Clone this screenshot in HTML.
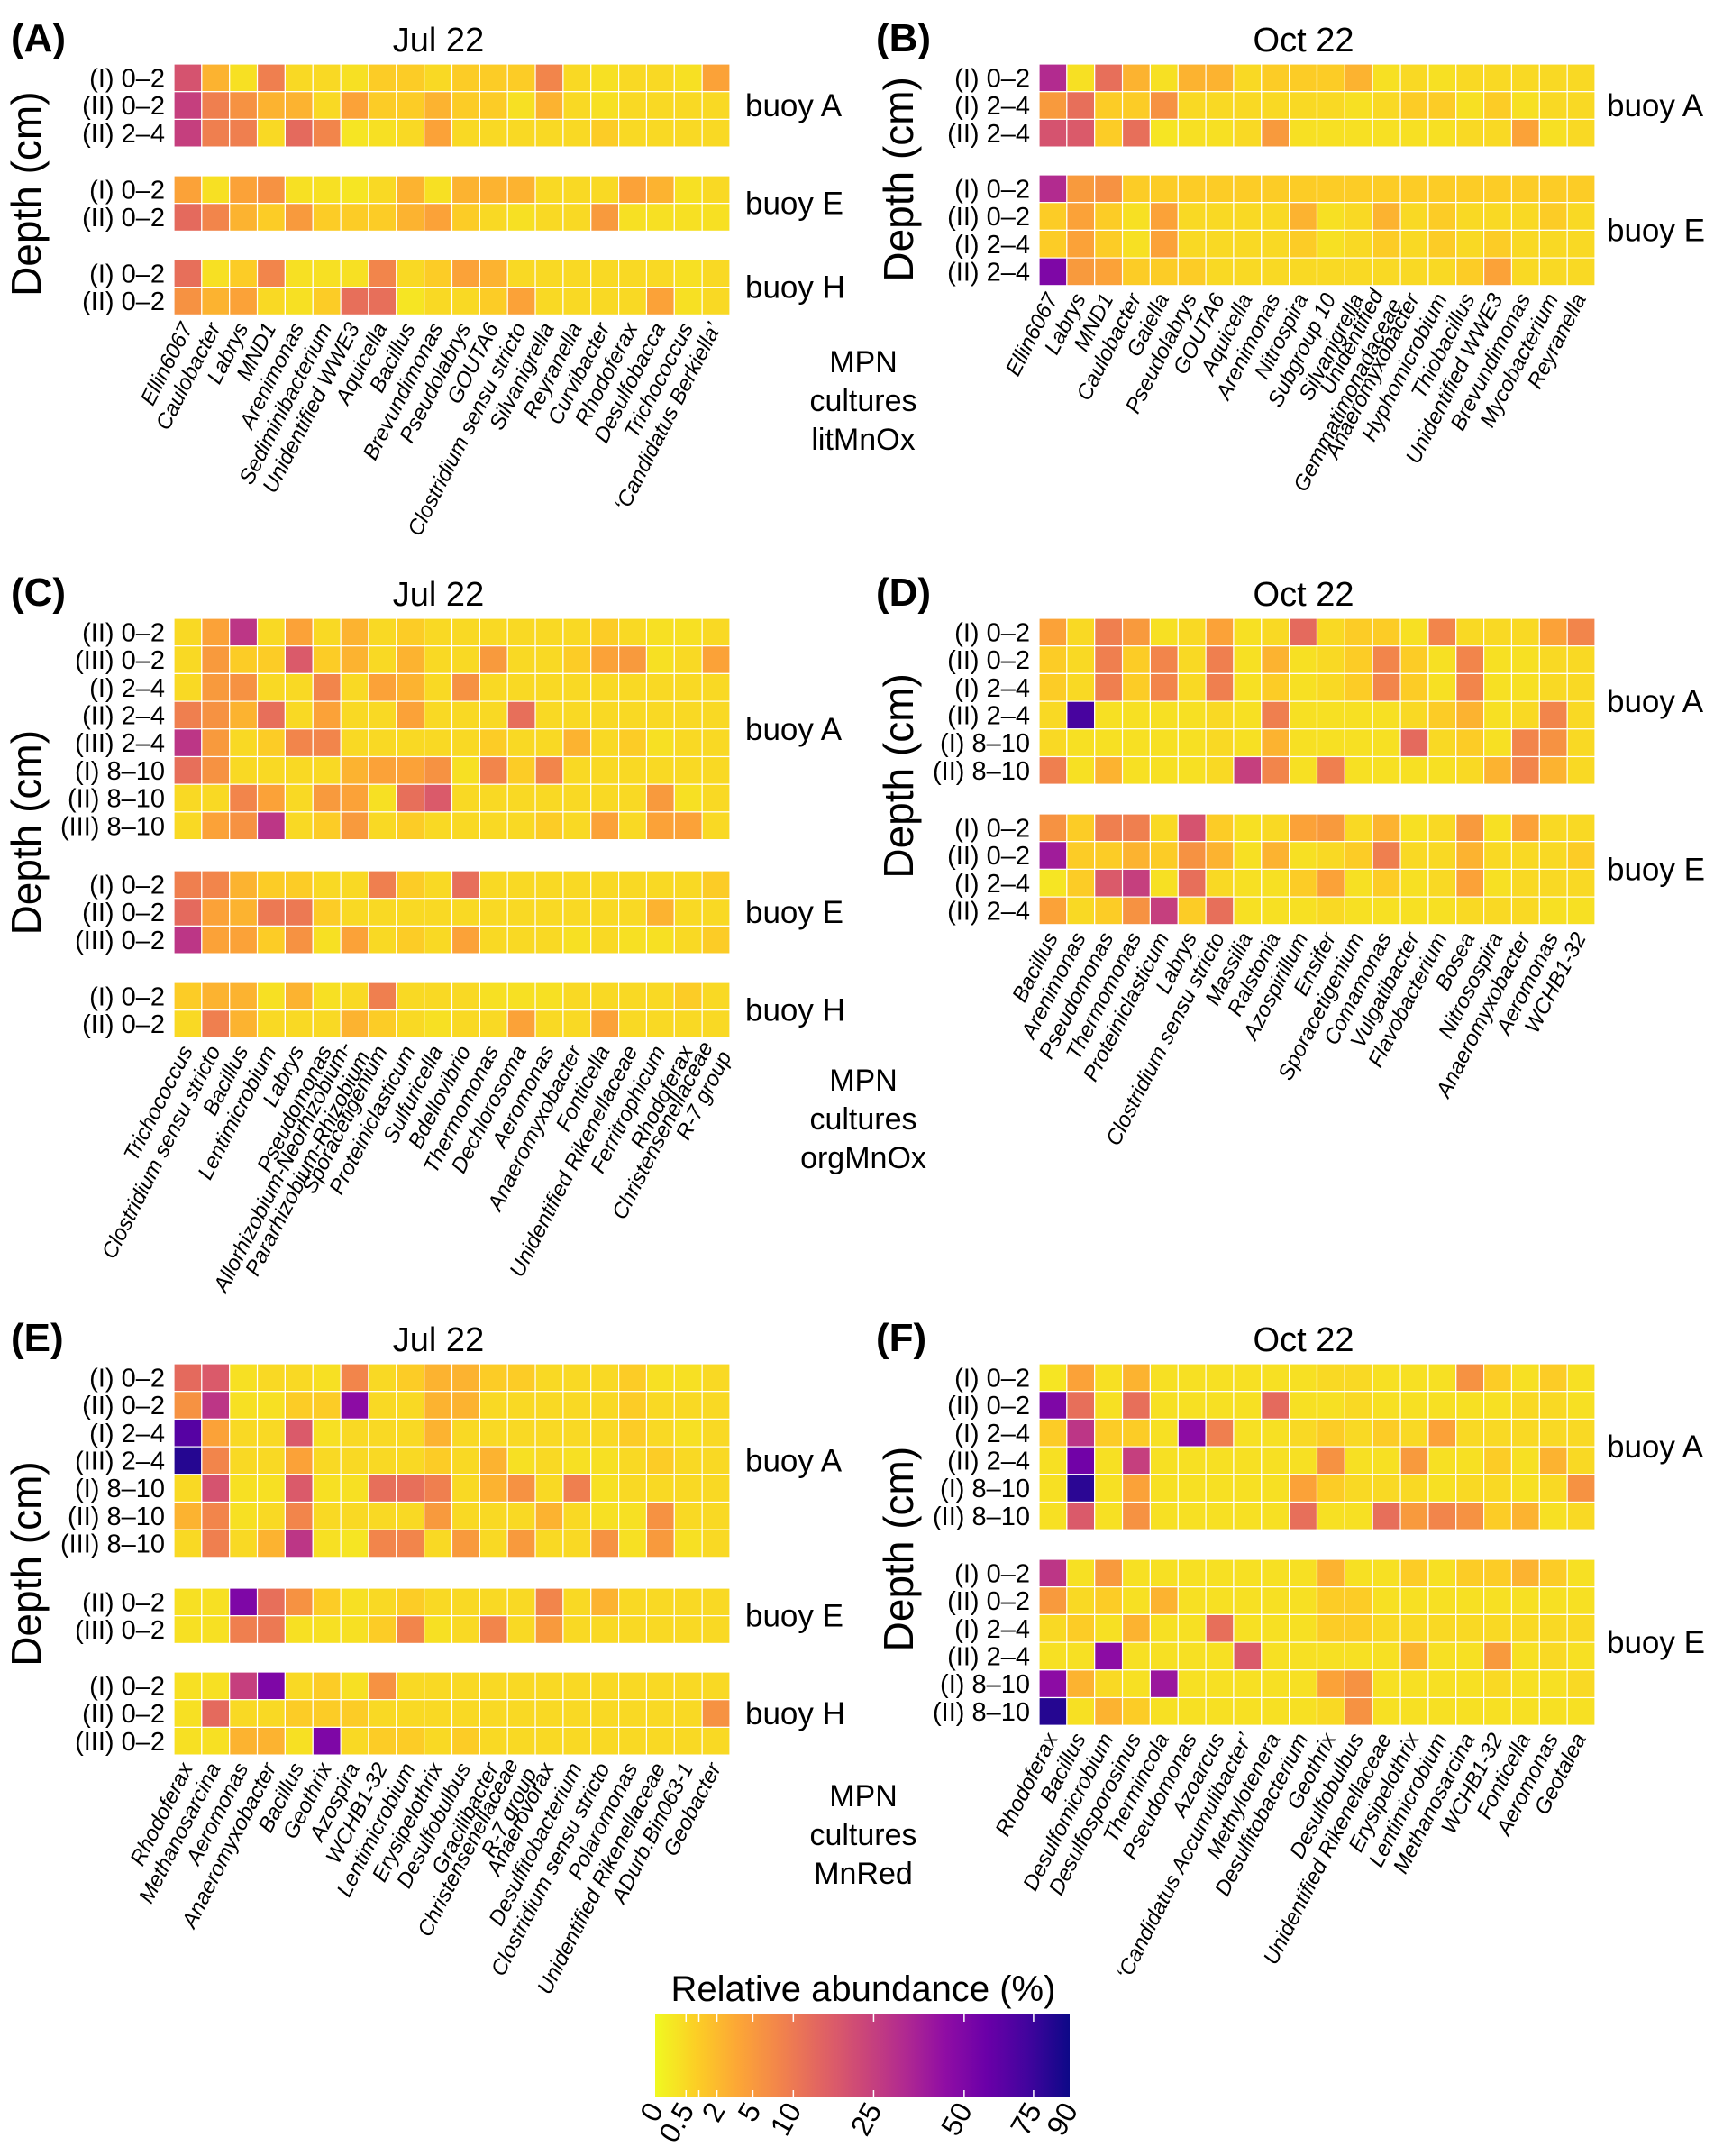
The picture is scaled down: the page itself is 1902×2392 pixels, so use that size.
<!DOCTYPE html>
<html><head><meta charset="utf-8">
<style>
html,body{margin:0;padding:0;background:#fff;}
svg{display:block;font-family:"Liberation Sans",Arial,sans-serif;}
</style></head>
<body>
<svg id="fig" width="1902" height="2392" viewBox="0 0 1902 2392" xmlns="http://www.w3.org/2000/svg">
<defs>
<linearGradient id="cbgrad" x1="0" x2="1" y1="0" y2="0"></linearGradient>
</defs>
</svg>
<script>
// ---------- DATA ----------
const colsA = ["Ellin6067","Caulobacter","Labrys","MND1","Arenimonas","Sediminibacterium","Unidentified WWE3","Aquicella","Bacillus","Brevundimonas","Pseudolabrys","GOUTA6","Clostridium sensu stricto","Silvanigrella","Reyranella","Curvibacter","Rhodoferax","Desulfobacca","Trichococcus","\u2018Candidatus Berkiella\u2019"];
const rowsA_A = ["(I) 0\u20132","(II) 0\u20132","(II) 2\u20134"];
const rowsA_E = ["(I) 0\u20132","(II) 0\u20132"];
const rowsA_H = ["(I) 0\u20132","(II) 0\u20132"];
const valsA_A = [
[19,2.5,0.3,9,0.5,0.5,0.3,1,1,0.5,1,1,1,8,0.5,0.3,0.5,0.5,0.3,4],
[25,9,6,2.5,2.5,0.5,4,1,1,2.5,1,1,0.3,2.5,0.5,0.3,0.5,0.5,0.5,0.5],
[25,9,9,0.5,13,8,0.2,0.3,0.5,4,0.5,0.5,0.5,0.5,0.5,1,0.5,0.5,0.5,0.5]];
const valsA_E = [
[4,0.3,4,6,0.3,0.3,0.2,0.5,2.5,0.3,2.5,2.5,2.5,0.5,0.5,0.5,4,2.5,0.3,0.5],
[13,8,2.5,1,5,1,1,1,2.5,4,1,0.5,0.3,0.5,0.5,5,0.3,0.3,0.3,0.3]];
const valsA_H = [
[12,0.3,1,8,0.3,0.3,0.3,8,0.5,1,4,2.5,0.5,0.5,0.5,0.5,0.5,0.5,0.3,0.5],
[6,2.5,4,0.5,0.3,1,12,12,0.2,0.5,0.5,1,4,0.5,0.5,0.5,0.5,4,0.3,0.5]];

const colsB = ["Ellin6067","Labrys","MND1","Caulobacter","Gaiella","Pseudolabrys","GOUTA6","Aquicella","Arenimonas","Nitrospira","Subgroup 10","Silvanigrella","Unidentified|Gemmatimonadaceae","Anaeromyxobacter","Hyphomicrobium","Thiobacillus","Unidentified WWE3","Brevundimonas","Mycobacterium","Reyranella"];
const rowsB_A = ["(I) 0\u20132","(I) 2\u20134","(II) 2\u20134"];
const rowsB_E = ["(I) 0\u20132","(II) 0\u20132","(I) 2\u20134","(II) 2\u20134"];
const valsB_A = [
[32,0.3,12,2.5,0.3,2.5,2.5,0.5,1,1,1,2.5,0.3,0.5,0.3,0.5,0.5,0.5,0.5,0.5],
[5,12,1,1,6,0.5,0.5,0.5,0.5,0.5,0.5,0.3,0.5,1,1,0.3,1,0.3,0.5,0.5],
[19,17,1,12,0.2,0.3,0.3,0.5,5,0.3,0.3,0.3,0.3,0.3,0.3,0.5,0.5,4,0.3,0.5]];
const valsB_E = [
[32,5,6,1,1,1,1,1,1,1,1,1,1,1,1,1,1,1,1,1],
[1,4,1,0.3,4,0.5,0.5,0.5,0.5,2.5,0.3,0.5,2.5,0.5,1,0.5,0.5,0.5,1,0.5],
[1,4,1,0.3,4,0.5,0.5,0.5,0.5,1,0.3,0.5,1,0.5,1,0.5,1,0.5,0.5,0.5],
[50,5,4,1,1,1,0.5,0.5,0.5,0.5,0.5,0.5,0.5,0.5,0.5,1,4,0.5,0.5,0.5]];

const colsC = ["Trichococcus","Clostridium sensu stricto","Bacillus","Lentimicrobium","Labrys","Pseudomonas","Allorhizobium-Neorhizobium-|Pararhizobium-Rhizobium","Sporacetigenium","Proteiniclasticum","Sulfuricella","Bdellovibrio","Thermomonas","Dechlorosoma","Aeromonas","Anaeromyxobacter","Fonticella","Unidentified Rikenellaceae","Ferritrophicum","Rhodoferax","Christensenellaceae|R-7 group"];
const rowsC_A = ["(II) 0\u20132","(III) 0\u20132","(I) 2\u20134","(II) 2\u20134","(III) 2\u20134","(I) 8\u201310","(II) 8\u201310","(III) 8\u201310"];
const rowsC_E = ["(I) 0\u20132","(II) 0\u20132","(III) 0\u20132"];
const rowsC_H = ["(I) 0\u20132","(II) 0\u20132"];
const valsC_A = [
[0.5,4,28,0.5,4,0.5,2.5,0.5,1,0.5,0.5,0.5,0.5,0.5,0.5,1,0.5,0.3,0.3,0.5],
[0.5,5,1,1,17,1,2.5,0.5,2.5,0.5,0.5,5,0.5,0.5,1,4,5,0.3,0.5,4],
[0.5,5,6,0.5,0.5,8,0.5,4,2.5,0.5,6,0.5,0.5,0.5,0.5,0.5,0.5,0.5,0.5,0.5],
[9,6,2.5,12,0.5,4,0.5,0.5,4,0.5,0.5,0.5,12,0.5,0.5,0.5,0.5,0.5,0.5,0.5],
[28,5,0.5,1,8,8,0.5,0.5,0.5,0.5,0.5,1,0.5,0.5,2.5,0.5,1,0.3,0.5,0.5],
[12,6,0.5,0.5,0.5,0.5,2.5,4,4,6,0.3,8,1,8,0.5,0.5,0.5,0.5,0.5,0.5],
[0.5,0.5,8,4,0.5,5,4,0.3,12,17,0.5,0.5,0.5,0.5,0.5,0.5,0.5,5,0.3,0.5],
[0.5,4,6,28,0.5,1,5,0.5,1,0.5,0.5,0.5,0.5,1,0.5,4,0.5,4,4,0.5]];
const valsC_E = [
[9,8,2.5,1,1,0.5,0.5,9,1,0.5,12,0.5,0.5,0.5,0.5,0.5,0.5,0.5,0.5,1],
[13,4,2.5,10,10,1,0.5,0.5,0.5,0.5,0.5,0.5,0.5,0.5,0.5,0.5,0.5,2.5,0.5,0.5],
[28,4,4,1,6,0.3,4,0.5,1,0.5,4,0.5,0.5,0.5,0.3,0.5,0.3,0.3,0.5,1]];
const valsC_H = [
[1,2.5,2.5,0.3,2.5,0.3,0.5,9,0.5,0.5,0.5,0.3,0.3,0.3,0.5,0.5,0.5,0.5,1,0.5],
[0.5,9,2.5,0.5,0.5,0.5,2.5,1,0.5,0.3,0.5,0.5,4,0.5,0.5,4,0.5,0.5,0.5,0.5]];

const colsD = ["Bacillus","Arenimonas","Pseudomonas","Thermomonas","Proteiniclasticum","Labrys","Clostridium sensu stricto","Massilia","Ralstonia","Azospirillum","Ensifer","Sporacetigenium","Comamonas","Vulgatibacter","Flavobacterium","Bosea","Nitrosospira","Anaeromyxobacter","Aeromonas","WCHB1-32"];
const rowsD_A = ["(I) 0\u20132","(II) 0\u20132","(I) 2\u20134","(II) 2\u20134","(I) 8\u201310","(II) 8\u201310"];
const rowsD_E = ["(I) 0\u20132","(II) 0\u20132","(I) 2\u20134","(II) 2\u20134"];
const valsD_A = [
[4,0.5,9,5,0.3,0.5,4,0.3,0.5,13,0.5,1,1,0.3,8,0.5,0.5,0.5,4,8],
[1,0.5,9,1,8,0.5,9,0.3,2.5,0.3,0.5,1,8,1,0.3,8,0.3,0.3,0.5,0.5],
[1,0.5,9,1,8,0.5,9,0.3,1,0.3,0.5,1,8,1,0.3,8,0.3,0.3,0.5,0.5],
[0.5,70,0.3,0.3,0.3,0.3,0.5,0.3,9,0.3,0.3,0.3,0.3,0.5,1,2.5,0.3,0.5,8,0.5],
[0.5,0.3,0.3,0.3,0.3,0.3,0.5,0.3,2.5,0.3,0.3,0.3,0.3,13,0.5,1,0.3,8,6,0.5],
[9,0.3,2.5,0.3,0.3,0.3,0.5,25,8,0.3,9,0.3,0.3,0.3,0.3,0.5,2.5,8,2.5,0.5]];
const valsD_E = [
[6,1,9,9,0.5,19,1,0.3,0.5,4,5,0.5,2.5,0.3,0.5,5,0.3,4,0.5,0.5],
[38,1,1,2.5,1,6,2.5,0.3,2.5,0.3,0.5,1,9,0.5,0.5,2.5,0.5,0.5,0.5,1],
[0.2,1,17,25,0.3,12,0.5,0.3,0.3,1,4,0.3,1,0.3,0.5,4,0.3,0.5,0.5,0.5],
[4,0.5,1,6,25,1,12,0.3,0.3,0.3,0.5,0.3,0.3,0.3,0.3,0.5,0.5,0.5,0.3,0.3]];

const colsE = ["Rhodoferax","Methanosarcina","Aeromonas","Anaeromyxobacter","Bacillus","Geothrix","Azospira","WCHB1-32","Lentimicrobium","Erysipelothrix","Desulfobulbus","Gracilibacter","Christensenellaceae|R-7 group","Anaerovorax","Desulfitobacterium","Clostridium sensu stricto","Polaromonas","Unidentified Rikenellaceae","ADurb.Bin063-1","Geobacter"];
const rowsE_A = ["(I) 0\u20132","(II) 0\u20132","(I) 2\u20134","(III) 2\u20134","(I) 8\u201310","(II) 8\u201310","(III) 8\u201310"];
const rowsE_E = ["(II) 0\u20132","(III) 0\u20132"];
const rowsE_H = ["(I) 0\u20132","(II) 0\u20132","(III) 0\u20132"];
const valsE_A = [
[13,17,0.3,0.5,0.5,0.3,8,0.5,1,2.5,2.5,1,1,0.5,0.5,0.5,1,0.3,0.3,0.5],
[6,28,0.3,0.3,1,1,45,0.5,0.5,2.5,2.5,0.5,0.5,0.5,0.5,0.5,1,0.5,0.5,0.5],
[65,4,0.5,0.5,17,0.3,0.5,0.5,0.5,2.5,0.5,0.5,0.5,0.5,0.5,0.5,1,0.5,0.3,0.5],
[82,8,0.5,0.5,4,0.5,0.5,0.5,0.5,1,0.5,2.5,0.3,0.5,0.3,0.3,0.5,1,0.5,0.5],
[0.5,19,0.3,0.3,17,0.3,0.3,12,12,9,0.5,2.5,6,0.5,9,0.3,0.5,0.5,0.5,0.5],
[2.5,8,0.3,0.5,8,0.5,0.5,0.5,0.5,5,0.5,0.5,0.5,2.5,0.5,0.3,0.3,6,0.5,0.5],
[0.5,9,0.5,2.5,28,0.3,0.2,8,8,0.5,5,0.5,5,0.5,0.5,6,0.3,5,0.3,0.5]];
const valsE_E = [
[0.3,0.3,50,12,6,1,0.3,0.5,1,0.5,0.5,0.5,0.5,8,0.5,2.5,0.5,0.5,0.5,0.5],
[0.3,0.3,9,10,0.3,0.3,0.3,1,8,0.3,0.5,8,0.5,5,0.5,0.5,0.5,0.5,0.5,0.5]];
const valsE_H = [
[0.3,0.3,25,50,0.5,1,0.3,6,0.5,0.5,0.5,0.5,0.5,0.5,0.5,0.5,0.5,0.5,0.5,0.5],
[0.3,13,0.5,0.5,1,1,1,0.5,0.5,0.5,0.5,0.5,0.5,0.5,0.5,0.5,0.5,0.5,0.5,6],
[0.3,0.3,2.5,2.5,0.3,50,0.5,1,1,0.5,1,0.5,0.5,0.5,0.5,0.5,0.5,0.5,0.5,0.5]];

const colsF = ["Rhodoferax","Bacillus","Desulfomicrobium","Desulfosporosinus","Thermincola","Pseudomonas","Azoarcus","\u2018Candidatus Accumulibacter\u2019","Methylotenera","Desulfitobacterium","Geothrix","Desulfobulbus","Unidentified Rikenellaceae","Erysipelothrix","Lentimicrobium","Methanosarcina","WCHB1-32","Fonticella","Aeromonas","Geotalea"];
const rowsF_A = ["(I) 0\u20132","(II) 0\u20132","(I) 2\u20134","(II) 2\u20134","(I) 8\u201310","(II) 8\u201310"];
const rowsF_E = ["(I) 0\u20132","(II) 0\u20132","(I) 2\u20134","(II) 2\u20134","(I) 8\u201310","(II) 8\u201310"];
const valsF_A = [
[0.2,4,0.3,2.5,0.3,0.3,0.3,0.3,0.3,0.3,0.5,0.5,0.3,0.3,0.3,6,1,0.3,1,0.3],
[50,12,0.3,12,0.3,0.3,0.3,0.3,13,0.3,0.3,0.5,0.3,0.3,0.3,0.3,0.3,0.5,0.5,0.3],
[1,28,1,1,0.3,45,9,0.3,0.3,0.5,1,0.5,1,0.5,4,0.5,0.5,0.5,0.5,0.5],
[0.3,55,0.3,25,0.3,0.3,0.3,0.3,0.3,0.3,6,0.3,0.3,5,0.3,0.3,1,0.3,2.5,0.5],
[0.3,80,0.3,4,0.3,0.3,0.3,0.3,0.3,4,1,0.5,0.5,0.5,0.3,0.5,0.5,0.3,0.5,6],
[0.3,17,0.3,6,0.3,0.3,0.3,0.3,0.3,12,0.3,0.3,12,5,8,6,1,2.5,0.3,0.5]];
const valsF_E = [
[28,0.3,5,0.3,0.3,0.3,0.3,0.3,0.3,0.3,2.5,0.3,0.3,1,0.3,1,1,2.5,1,0.3],
[5,0.5,1,0.3,2.5,0.3,0.3,0.3,0.3,0.3,1,1,0.3,0.3,0.3,0.3,0.3,0.3,0.3,0.3],
[0.5,1,0.3,2.5,0.3,0.3,12,0.3,0.3,0.3,1,1,0.5,0.5,0.5,0.5,0.5,0.5,0.5,0.5],
[0.3,0.3,45,0.3,0.3,0.3,0.3,17,0.3,0.3,0.3,0.3,0.3,2.5,0.3,0.3,5,0.3,0.5,0.3],
[45,2.5,0.5,0.3,40,0.3,0.3,0.3,0.3,0.3,4,6,0.3,0.3,0.3,0.3,0.5,0.3,0.3,0.5],
[82,0.3,2.5,1,0.3,0.3,0.3,0.3,0.3,0.3,0.5,6,0.3,0.3,0.3,0.3,0.3,0.3,0.3,0.3]];

const cbTicks = [0,0.5,2,5,10,25,50,75,90];
const cbTickLabels = ["0","0.5","2","5","10","25","50","75","90"];
const cbMinor = [1];

// ---------- SCALES ----------
const VMAX = 90;
const plasma = ["#0d0887","#41049d","#6a00a8","#8f0da4","#b12a90","#cc4778","#e16462","#f2844b","#fca636","#fcce25","#f0f921"];
function hex(h){return [parseInt(h.slice(1,3),16),parseInt(h.slice(3,5),16),parseInt(h.slice(5,7),16)];}
function tOf(v){return Math.sqrt(Math.max(0,Math.min(VMAX,v))/VMAX);}
function colorOf(v){
  const t = 1 - tOf(v);
  const p = t*10, i = Math.min(9, Math.floor(p)), f = p - i;
  const a = hex(plasma[i]), b = hex(plasma[i+1]);
  return "rgb("+a.map((c,k)=>Math.round(c+(b[k]-c)*f)).join(",")+")";
}

const NS = "http://www.w3.org/2000/svg";
const svg = document.getElementById("fig");
function el(tag, attrs, parent){
  const e = document.createElementNS(NS, tag);
  for (const k in attrs) e.setAttribute(k, attrs[k]);
  (parent||svg).appendChild(e);
  return e;
}
function txt(str, attrs, parent){
  const e = el("text", attrs, parent);
  e.textContent = str;
  return e;
}

// ---------- PANEL DRAWING ----------
function drawPanel(p){
  const g = el("g", {});
  
  
  const cw = p.cw, rh = 30.7;
  const nC = p.cols.length;
  const xScale = i => p.x0 + i*cw;
  const lab = txt("(" + p.letter + ")", {x:p.x0-181, y:p.groups[0].top-14, "font-size":44, "font-weight":"bold"}, g);
  
  
  const ttl = txt(p.title, {x:p.x0+nC*cw/2-15, y:p.groups[0].top-14, "font-size":38, "text-anchor":"middle"}, g);
  
  
  let lastBottom = 0;
  p.groups.forEach(gr => {
    const yScale = r => gr.top + r*rh;
    gr.vals.forEach((row, r) => {
      row.forEach((v, c) => {
        const rc = el("rect", {x:xScale(c), y:yScale(r), width:cw, height:rh, fill:colorOf(v), stroke:"#ffffff", "stroke-width":1.2}, g);
        
        
      });
      const rl = txt(gr.rows[r], {x:p.x0-10, y:yScale(r)+rh/2+10, "font-size":29, "text-anchor":"end"}, g);
      
      
    });
    const bottom = yScale(gr.vals.length);
    lastBottom = bottom;
    const bl = txt(gr.name, {x:p.buoyX, y:(gr.top+bottom)/2+12, "font-size":35}, g);
    
    
  });
  const top = p.groups[0].top;
  const mid = (top + lastBottom)/2 + 5;
  const dt = txt("Depth (cm)", {x:0, y:0, "font-size":46, "text-anchor":"middle", transform:"translate("+p.depthX+","+mid+") rotate(-90)"}, g);
  
  
  p.cols.forEach((name, c) => {
    const cx = xScale(c) + cw/2 + 6;
    const cy = lastBottom + 14;
    const parts = name.split("|");
    const t = el("text", {x:0, y:0, "font-size":24, "font-style":"italic", "text-anchor":"end", transform:"translate("+cx+","+cy+") rotate(-63)"}, g);
    
    
    if (parts.length === 1) { t.textContent = name; }
    else {
      const a = el("tspan", {x:0, dy:-10}, t); a.textContent = parts[0];
      const b = el("tspan", {x:0, dy:23}, t); b.textContent = parts[1];
    }
  });
}

const CW = 30.85;
drawPanel({id:"a", letter:"A", title:"Jul 22", x0:193, cw:CW, cols:colsA, buoyX:827, depthX:45,
  groups:[{name:"buoy A", top:71, rows:rowsA_A, vals:valsA_A},{name:"buoy E", top:195, rows:rowsA_E, vals:valsA_E},{name:"buoy H", top:288, rows:rowsA_H, vals:valsA_H}]});
drawPanel({id:"b", letter:"B", title:"Oct 22", x0:1153, cw:CW, cols:colsB, buoyX:1783, depthX:1013,
  groups:[{name:"buoy A", top:71, rows:rowsB_A, vals:valsB_A},{name:"buoy E", top:194, rows:rowsB_E, vals:valsB_E}]});
drawPanel({id:"c", letter:"C", title:"Jul 22", x0:193, cw:CW, cols:colsC, buoyX:827, depthX:45,
  groups:[{name:"buoy A", top:686, rows:rowsC_A, vals:valsC_A},{name:"buoy E", top:966, rows:rowsC_E, vals:valsC_E},{name:"buoy H", top:1090, rows:rowsC_H, vals:valsC_H}]});
drawPanel({id:"d", letter:"D", title:"Oct 22", x0:1153, cw:CW, cols:colsD, buoyX:1783, depthX:1013,
  groups:[{name:"buoy A", top:686, rows:rowsD_A, vals:valsD_A},{name:"buoy E", top:903, rows:rowsD_E, vals:valsD_E}]});
drawPanel({id:"e", letter:"E", title:"Jul 22", x0:193, cw:CW, cols:colsE, buoyX:827, depthX:45,
  groups:[{name:"buoy A", top:1513, rows:rowsE_A, vals:valsE_A},{name:"buoy E", top:1762, rows:rowsE_E, vals:valsE_E},{name:"buoy H", top:1855, rows:rowsE_H, vals:valsE_H}]});
drawPanel({id:"f", letter:"F", title:"Oct 22", x0:1153, cw:CW, cols:colsF, buoyX:1783, depthX:1013,
  groups:[{name:"buoy A", top:1513, rows:rowsF_A, vals:valsF_A},{name:"buoy E", top:1730, rows:rowsF_E, vals:valsF_E}]});

[["MPN","cultures","litMnOx",413],["MPN","cultures","orgMnOx",1210],["MPN","cultures","MnRed",2004]].forEach(m => {
  for (let i=0;i<3;i++){
    const t = txt(m[i], {x:958, y:m[3]+i*43, "font-size":34, "text-anchor":"middle"});
    
    
  }
});

// ---------- COLORBAR ----------
const grad = document.getElementById("cbgrad");
for (let i=0;i<=40;i++){
  const v = VMAX*(i/40)*(i/40);
  el("stop", {offset:(i/40), "stop-color":colorOf(v)}, grad);
}
const cbX0 = 727, cbX1 = 1187, cbY0 = 2235, cbY1 = 2327;
const cbScale = v => cbX0 + tOf(v)*(cbX1-cbX0);
const cbT = txt("Relative abundance (%)", {x:958, y:2220, "font-size":40, "text-anchor":"middle"});


const cbR = el("rect", {x:cbX0, y:cbY0, width:cbX1-cbX0, height:cbY1-cbY0, fill:"url(#cbgrad)"});


cbTicks.concat(cbMinor).forEach(v => {
  const x = cbScale(v);
  if (v > 0 && v < VMAX) {
    el("line", {x1:x, x2:x, y1:cbY0, y2:cbY0+8, stroke:"#fff", "stroke-width":1.5});
    el("line", {x1:x, x2:x, y1:cbY1-8, y2:cbY1, stroke:"#fff", "stroke-width":1.5});
  }
});
cbTicks.forEach((v, i) => {
  const x = cbScale(v);
  const t = txt(cbTickLabels[i], {x:0, y:0, "font-size":32, "text-anchor":"end", transform:"translate("+(x+10)+","+(cbY1+14)+") rotate(-60)"});
  
  
});
</script>
</body></html>
